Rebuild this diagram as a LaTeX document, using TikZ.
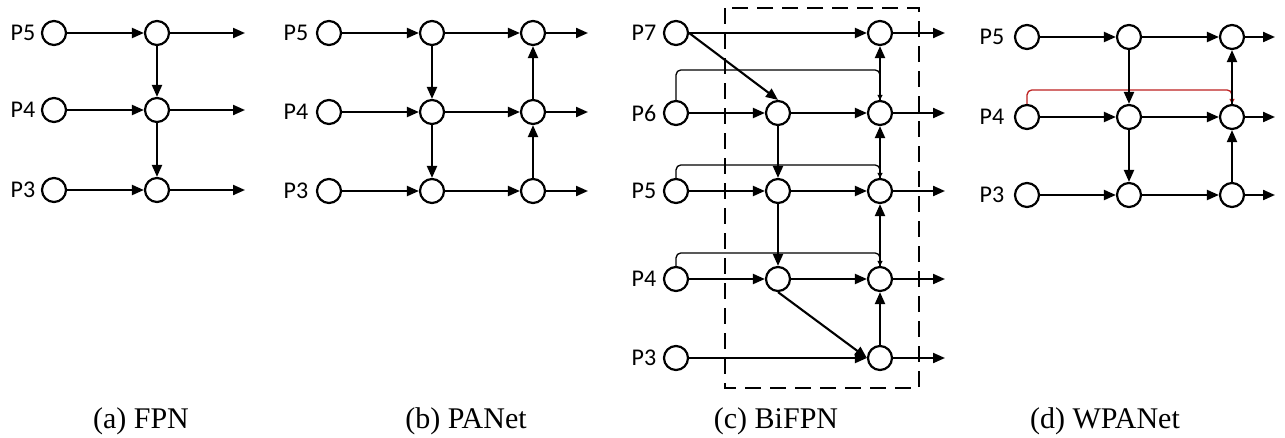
\documentclass[tikz,border=0pt]{standalone}
\usepackage{fontspec}
\setmainfont{Liberation Serif}
\newfontfamily\plabfont{Carlito}
\usepackage{xcolor}
\usepackage{tikz}
\usetikzlibrary{arrows.meta,positioning}
\definecolor{skipred}{rgb}{0.74,0.13,0.13}

\begin{document}
\begin{tikzpicture}[x=1pt, y=-1pt, on grid,
      fm/.style={draw, circle, line width=2.2pt, minimum size=24pt, inner sep=0pt},
      lvl/.style={font=\plabfont\fontsize{24}{24}\selectfont},
      arr/.style={-{Triangle[length=12pt,width=10pt]}, line width=2.1pt},
      skip/.style={-{Triangle[length=5pt,width=5pt]}, line width=1.3pt, rounded corners=5pt},
      subcap/.style={font=\fontsize{30}{30}\selectfont, anchor=base}
  ]
    \useasboundingbox (0,0) rectangle (1285,437);

    % (a) FPN
    \node[fm] (a5i) at (54,33) {};
    \node[fm, below=77pt of a5i] (a4i) {};
    \node[fm, below=80pt of a4i] (a3i) {};
    \node[fm, right=103pt of a5i] (a5m) {};
    \node[fm, right=103pt of a4i] (a4m) {};
    \node[fm, right=103pt of a3i] (a3m) {};
    \coordinate[right=88pt of a5m] (a5o);
    \coordinate[right=88pt of a4m] (a4o);
    \coordinate[right=88pt of a3m] (a3o);
    \node[lvl, left=31pt of a5i] {P5};
    \node[lvl, left=31pt of a4i] {P4};
    \node[lvl, left=31pt of a3i] {P3};
    \draw[arr] (a5i)--(a5m); \draw[arr] (a4i)--(a4m); \draw[arr] (a3i)--(a3m);
    \draw[arr] (a5m)--(a4m); \draw[arr] (a4m)--(a3m);
    \draw[arr] (a5m)--(a5o); \draw[arr] (a4m)--(a4o); \draw[arr] (a3m)--(a3o);
    \node[subcap] at (141,428) {(a) FPN};

    % (b) PANet
    \node[fm] (b5i) at (329,33) {};
    \node[fm, below=79pt of b5i] (b4i) {};
    \node[fm, below=79pt of b4i] (b3i) {};
    \node[fm, right=103pt of b5i] (b5m) {};
    \node[fm, right=103pt of b4i] (b4m) {};
    \node[fm, right=103pt of b3i] (b3m) {};
    \node[fm, right=101pt of b5m] (b5r) {};
    \node[fm, right=101pt of b4m] (b4r) {};
    \node[fm, right=101pt of b3m] (b3r) {};
    \coordinate[right=55pt of b5r] (b5o);
    \coordinate[right=55pt of b4r] (b4o);
    \coordinate[right=55pt of b3r] (b3o);
    \node[lvl, left=33pt of b5i] {P5};
    \node[lvl, left=33pt of b4i] {P4};
    \node[lvl, left=33pt of b3i] {P3};
    \draw[arr] (b5i)--(b5m); \draw[arr] (b5m)--(b5r); \draw[arr] (b5r)--(b5o);
    \draw[arr] (b4i)--(b4m); \draw[arr] (b4m)--(b4r); \draw[arr] (b4r)--(b4o);
    \draw[arr] (b3i)--(b3m); \draw[arr] (b3m)--(b3r); \draw[arr] (b3r)--(b3o);
    \draw[arr] (b5m)--(b4m); \draw[arr] (b4m)--(b3m);
    \draw[arr] (b3r)--(b4r); \draw[arr] (b4r)--(b5r);
    \node[subcap] at (466,428) {(b) PANet};

    % (c) BiFPN
    \draw[line width=2.8pt, dash pattern=on 16pt off 9pt] (725,8) rectangle (919,388);
    \node[fm] (c7i) at (676,33) {};
    \node[fm, below=80pt of c7i] (c6i) {};
    \node[fm, below=78pt of c6i] (c5i) {};
    \node[fm, below=88pt of c5i] (c4i) {};
    \node[fm, below=79pt of c4i] (c3i) {};
    \node[fm, right=102pt of c6i] (c6m) {};
    \node[fm, right=102pt of c5i] (c5m) {};
    \node[fm, right=102pt of c4i] (c4m) {};
    \node[fm, right=204pt of c7i] (c7r) {};
    \node[fm, right=102pt of c6m] (c6r) {};
    \node[fm, right=102pt of c5m] (c5r) {};
    \node[fm, right=102pt of c4m] (c4r) {};
    \node[fm, right=204pt of c3i] (c3r) {};
    \coordinate[right=65pt of c7r] (c7o);
    \coordinate[right=65pt of c6r] (c6o);
    \coordinate[right=65pt of c5r] (c5o);
    \coordinate[right=65pt of c4r] (c4o);
    \coordinate[right=65pt of c3r] (c3o);
    \node[lvl, left=32pt of c7i] {P7};
    \node[lvl, left=32pt of c6i] {P6};
    \node[lvl, left=32pt of c5i] {P5};
    \node[lvl, left=32pt of c4i] {P4};
    \node[lvl, left=32pt of c3i] {P3};
    % lateral skips into the output column
    \draw[skip] (c6i.north) -- ++(0,-30) -| (c6r.north);
    \draw[skip] (c5i.north) -- ++(0,-13) -| (c5r.north);
    \draw[skip] (c4i.north) -- ++(0,-13) -| (c4r.north);
    \draw[arr] (c7i)--(c7r); \draw[arr] (c7i.east)--(c6m.north);
    \draw[arr] (c6i)--(c6m); \draw[arr] (c6m)--(c6r);
    \draw[arr] (c5i)--(c5m); \draw[arr] (c5m)--(c5r);
    \draw[arr] (c4i)--(c4m); \draw[arr] (c4m)--(c4r);
    \draw[arr] (c3i)--(c3r); \draw[arr] (c4m.south)--(c3r.west);
    \draw[arr] (c6m)--(c5m); \draw[arr] (c5m)--(c4m);
    \draw[arr] (c3r)--(c4r); \draw[arr] (c4r)--(c5r);
    \draw[arr] (c5r)--(c6r); \draw[arr] (c6r)--(c7r);
    \draw[arr] (c7r)--(c7o); \draw[arr] (c6r)--(c6o); \draw[arr] (c5r)--(c5o);
    \draw[arr] (c4r)--(c4o); \draw[arr] (c3r)--(c3o);
    \node[subcap] at (776,428) {(c) BiFPN};

    % (d) WPANet
    \node[fm] (d5i) at (1027,37) {};
    \node[fm, below=80pt of d5i] (d4i) {};
    \node[fm, below=78pt of d4i] (d3i) {};
    \node[fm, right=102pt of d5i] (d5m) {};
    \node[fm, right=102pt of d4i] (d4m) {};
    \node[fm, right=102pt of d3i] (d3m) {};
    \node[fm, right=103pt of d5m] (d5r) {};
    \node[fm, right=103pt of d4m] (d4r) {};
    \node[fm, right=103pt of d3m] (d3r) {};
    \coordinate[right=43pt of d5r] (d5o);
    \coordinate[right=43pt of d4r] (d4o);
    \coordinate[right=43pt of d3r] (d3o);
    \node[lvl, left=35pt of d5i] {P5};
    \node[lvl, left=35pt of d4i] {P4};
    \node[lvl, left=35pt of d3i] {P3};
    \draw[skip, skipred] (d4i.north) -- ++(0,-14) -| (d4r.north);
    \draw[arr] (d5i)--(d5m); \draw[arr] (d5m)--(d5r); \draw[arr] (d5r)--(d5o);
    \draw[arr] (d4i)--(d4m); \draw[arr] (d4m)--(d4r); \draw[arr] (d4r)--(d4o);
    \draw[arr] (d3i)--(d3m); \draw[arr] (d3m)--(d3r); \draw[arr] (d3r)--(d3o);
    \draw[arr] (d5m)--(d4m); \draw[arr] (d4m)--(d3m);
    \draw[arr] (d3r)--(d4r); \draw[arr] (d4r)--(d5r);
    \node[subcap] at (1105,428) {(d) WPANet};
  \end{tikzpicture}
\end{document}
